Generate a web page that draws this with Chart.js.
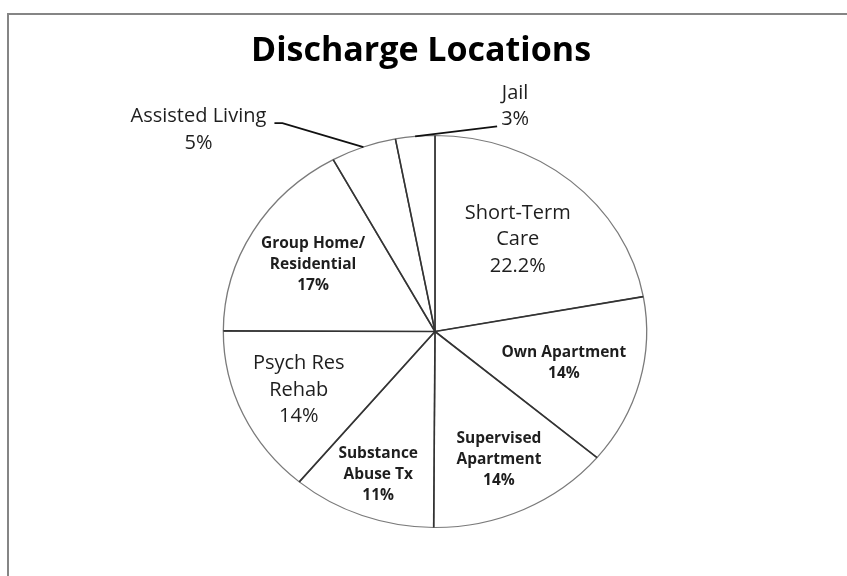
<!DOCTYPE html>
<html>
<head>
<meta charset="utf-8">
<title>Discharge Locations</title>
<script src="https://cdn.jsdelivr.net/npm/chart.js@4.4.1/dist/chart.umd.min.js"></script>
<style>
    html, body { margin: 0; padding: 0; background: #fff; overflow: hidden; }
    #wrap { position: relative; width: 847px; height: 576px; overflow: hidden; }
    #frame { position: absolute; left: 7px; top: 13px; width: 900px; height: 700px; border: 2px solid #858585; }
    #marketChart { position: absolute; left: 0; top: 0; }
</style>
</head>
<body>
<div id="wrap">
    <div id="frame"></div>
    <canvas id="marketChart" width="847" height="576"></canvas>
</div>
<script>
const chartTitle = "Discharge Locations";
const categories = [
    "Short-Term\nCare",
    "Own Apartment",
    "Supervised\nApartment",
    "Substance\nAbuse Tx",
    "Psych Res\nRehab",
    "Group Home/\nResidential",
    "Assisted Living",
    "Jail"
];
const values = [22.2, 14, 14, 11, 14, 17, 5, 3];

// label look (not data)
const boldLabel = [false, true, true, true, false, true, false, false];
const labelDepth = [0.61, 0.63, 0.72, 0.78, 0.71, 0.67, 0, 0];
// labels that sit outside, offsets from the rim point of the slice
const outsideLabels = {
    6: { text: [-165, -17], elbow: [-81, -24], end: [-89, -24] },
    7: { text: [100, -30], elbow: [82, -10], end: [82, -10] }
};
const stretchX = 1.08;
const textColor = "#1e1e1e";

const piePlugin = {
    id: "pieDecor",
    beforeDatasetsDraw(chart) {
        const arc = chart.getDatasetMeta(0).data[0];
        const ctx = chart.ctx;
        ctx.save();
        ctx.translate(arc.x, arc.y);
        ctx.scale(stretchX, 1);
        ctx.translate(-arc.x, -arc.y);
    },
    afterDatasetsDraw(chart) {
        const ctx = chart.ctx;
        ctx.restore();

        const arcs = chart.getDatasetMeta(0).data;

        // darker dividing lines
        ctx.save();
        ctx.strokeStyle = "#333";
        ctx.lineWidth = 1.6;
        arcs.forEach(arc => {
            const p = arc.getProps(["x", "y", "startAngle", "outerRadius"], true);
            ctx.beginPath();
            ctx.moveTo(p.x, p.y);
            ctx.lineTo(p.x + Math.cos(p.startAngle) * p.outerRadius * stretchX,
                       p.y + Math.sin(p.startAngle) * p.outerRadius);
            ctx.stroke();
        });
        ctx.restore();

        ctx.save();
        ctx.fillStyle = textColor;
        ctx.textAlign = "center";
        ctx.textBaseline = "middle";

        arcs.forEach((arc, i) => {
            const p = arc.getProps(["x", "y", "startAngle", "endAngle", "outerRadius"], true);
            const mid = (p.startAngle + p.endAngle) / 2;
            const lines = categories[i].split("\n").concat(values[i] + "%");
            let cx, cy;

            if (outsideLabels[i]) {
                const o = outsideLabels[i];
                const rx = p.x + Math.cos(mid) * p.outerRadius * stretchX;
                const ry = p.y + Math.sin(mid) * p.outerRadius;
                ctx.save();
                ctx.strokeStyle = "#111";
                ctx.lineWidth = 1.8;
                ctx.beginPath();
                ctx.moveTo(rx, ry);
                ctx.lineTo(rx + o.elbow[0], ry + o.elbow[1]);
                ctx.lineTo(rx + o.end[0], ry + o.end[1]);
                ctx.stroke();
                ctx.restore();
                cx = rx + o.text[0];
                cy = ry + o.text[1];
            } else {
                const r = p.outerRadius * labelDepth[i];
                cx = p.x + Math.cos(mid) * r * stretchX;
                cy = p.y + Math.sin(mid) * r;
            }

            const lh = boldLabel[i] ? 21 : 26.5;
            ctx.font = boldLabel[i]
                ? "bold 15.5px 'Open Sans', sans-serif"
                : "20px 'Open Sans', sans-serif";
            const top = cy - (lines.length - 1) * lh / 2;
            lines.forEach((line, k) => {
                ctx.fillText(line, cx, top + k * lh);
            });
        });

        // title
        ctx.fillStyle = "#000";
        ctx.font = "bold 34px 'Open Sans', sans-serif";
        ctx.fillText(chartTitle, 421, 51);
        ctx.restore();
    }
};

const ctx = document.getElementById("marketChart").getContext("2d");

new Chart(ctx, {
    type: "pie",
    data: {
        labels: categories,
        datasets: [
            {
                data: values,
                backgroundColor: "#ffffff",
                borderColor: "#7a7a7a",
                borderWidth: 1.2,
                radius: 196
            }
        ]
    },
    options: {
        responsive: false,
        animation: false,
        events: [],
        layout: {
            padding: { left: 23, right: 0, top: 87, bottom: 0 }
        },
        plugins: {
            legend: { display: false },
            tooltip: { enabled: false },
            title: { display: false }
        }
    },
    plugins: [piePlugin]
});
</script>
</body>
</html>
